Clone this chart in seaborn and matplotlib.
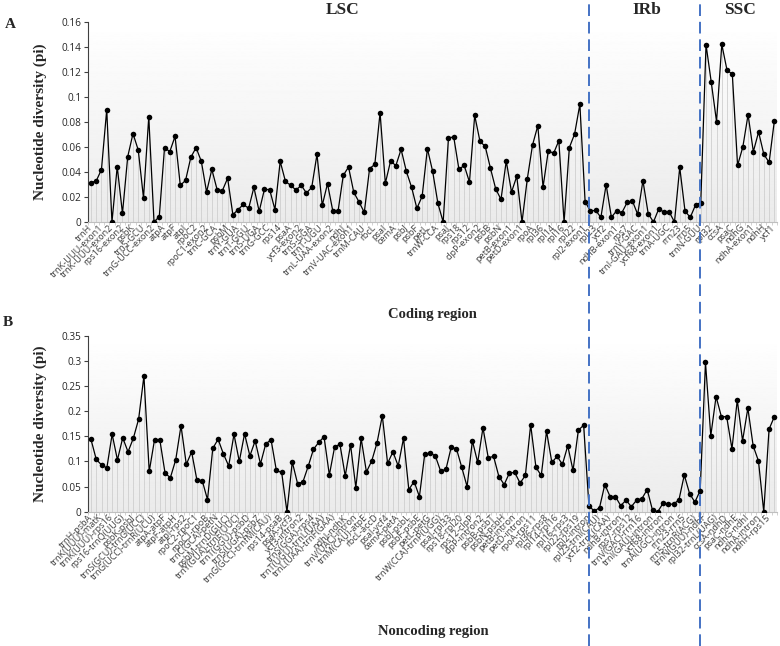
import numpy as np
import matplotlib
matplotlib.use("Agg")
import matplotlib.pyplot as plt
from matplotlib.lines import Line2D
from matplotlib.ticker import FuncFormatter
import seaborn as sns

# Tick labels (only every other category is labelled on the axis)
coding_labels = [
    "trnH", "trnK-UUU-exon1", "trnK-UUU-exon2", "rps16-exon2", "psbK", "trnS-GCU",
    "trnG-UCC-exon2", "atpA", "atpF", "atpI", "rpoC2", "rpoC1-exon2", "trnC-GCA",
    "psbM", "trnY-GUA", "trnT-GGU", "trnS-UGA", "trnG-GCC", "rps14", "psaA",
    "ycf3-exon2", "trnS-GGA", "trnT-UGU", "trnL-UAA-exon2", "ndhJ", "trnV-UAC-exon1",
    "trnM-CAU", "rbcL", "psaI", "cemA", "psbJ", "psbF", "petL", "trnW-CCA", "psaJ",
    "rps18", "rps12", "clpP-exon2", "psbB", "psbN", "petB-exon1", "petD-exon1", "rpoA",
    "rpl36", "rpl14", "rpl16", "rpl22", "rpl2-exon1", "rpl23", "ycf2", "ndhB-exon1",
    "rps7", "trnV-GAC", "trnI-GAU-exon1", "ycf68-exon1", "trnA-UGC", "rrn23", "rrn5",
    "trnN-GUU", "rpl32", "ccsA", "psaC", "ndhG", "ndhA-exon1", "ndhH", "ycf1",
]

coding_pi = [
    0.0315, 0.0328, 0.0419, 0.0896, 0.0, 0.0443, 0.0069, 0.0523, 0.0707, 0.0576,
    0.0192, 0.0840, 0.0, 0.0043, 0.0595, 0.0563, 0.0685, 0.0293, 0.0333, 0.0517,
    0.0595, 0.0485, 0.0240, 0.0421, 0.0259, 0.0251, 0.0350, 0.0059, 0.0099, 0.0141,
    0.0109, 0.0277, 0.0085, 0.0261, 0.0259, 0.0099, 0.0485, 0.0325, 0.0293, 0.0256,
    0.0293, 0.0232, 0.0277, 0.0541, 0.0133, 0.0307, 0.0090, 0.0085, 0.0373, 0.0440,
    0.0237, 0.0160, 0.0077, 0.0427, 0.0461, 0.0875, 0.0310, 0.0488, 0.0451, 0.0581,
    0.0405, 0.0277, 0.0109, 0.0205, 0.0587, 0.0405, 0.0149, 0.0, 0.0669, 0.0683,
    0.0421, 0.0453, 0.0320, 0.0853, 0.0645, 0.0605, 0.0429, 0.0264, 0.0181, 0.0488,
    0.0240, 0.0365, 0.0, 0.0344, 0.0616, 0.0770, 0.0280, 0.0570, 0.0549, 0.0650,
    0.0, 0.0595, 0.0704, 0.0941, 0.0163, 0.0088, 0.0093, 0.0037, 0.0299, 0.0037,
    0.0091, 0.0075, 0.0157, 0.0168, 0.0061, 0.0331, 0.0067, 0.0, 0.0104, 0.0080,
    0.0080, 0.0, 0.0437, 0.0088, 0.0037, 0.0136, 0.0155, 0.1419, 0.1117, 0.0803,
    0.1421, 0.1213, 0.1184, 0.0453, 0.0600, 0.0859, 0.0563, 0.0720, 0.0541, 0.0477,
    0.0810,
]

noncoding_labels = [
    "trnH-psbA", "trnK(UUU)-matK", "trnK(UUU)-rps16", "rps16-trnQ(UUG)", "psbK-psbI",
    "trnS(GCU)-trnG(UCC)", "trnG(UCC)-trnR(UCU)", "atpA-atpF", "atpF-atpH", "atpI-rps2",
    "rpoC2-rpoC1", "rpoC1-rpoB", "trnC(GCA)-petN", "psbM-trnD(GUC)", "trnY(GUA)-trnE(UUC)",
    "trnT(GGU)-psbD", "trnS(UGA)-psbZ", "trnG(GCC)-trnfM(CAU)", "rps14-psaB", "psaA-ycf3",
    "ycf3-intron2", "trnS(GGA)-rps4", "trnT(UGU)-trnL(UAA)", "trnL(UAA)-trnF(GAA)",
    "ndhJ-ndhK", "trnV(UAC)-intron", "trnM(CAU)-atpE", "rbcL-accD", "psaI-ycf4",
    "cemA-petA", "psbJ-psbL", "psbF-psbE", "petL-petG", "trnW(CCA)-trnP(UGG)",
    "psaJ-rpl33", "rps18-rpl20", "rps12-clpP", "clpP-intron2", "psbB-psbT", "psbN-psbH",
    "petB-intron", "petD-intron", "rpoA-rps11", "rpl36-rps8", "rpl14-rpl16", "rpl16-rps3",
    "rpl22-rps19", "rpl2-intron", "rpl23-trnI(CAU)", "ycf2-trnL(CAA)", "ndhB-intron",
    "rps7-rps12", "trnV(GAC)-rrn16", "trnI(GAU)-intron", "ycf68-intron", "trnA(UGC)-intron",
    "rrn23-rrn5", "rrn5-trnR(ACG)", "trnN(GUU)-ndhF", "rpl32-trnL(UAG)", "ccsA-ndhD",
    "psaC-ndhE", "ndhG-ndhI", "ndhA-intron", "ndhH-rps15",
]

noncoding_pi = [
    0.144, 0.104, 0.093, 0.087, 0.154, 0.103, 0.147, 0.119, 0.146, 0.184,
    0.270, 0.080, 0.143, 0.143, 0.076, 0.068, 0.103, 0.171, 0.094, 0.119,
    0.063, 0.062, 0.024, 0.126, 0.144, 0.115, 0.091, 0.154, 0.100, 0.155,
    0.111, 0.141, 0.095, 0.135, 0.143, 0.082, 0.078, 0.0, 0.099, 0.056,
    0.059, 0.090, 0.124, 0.138, 0.149, 0.073, 0.129, 0.134, 0.071, 0.133,
    0.048, 0.146, 0.079, 0.101, 0.137, 0.191, 0.096, 0.119, 0.091, 0.146,
    0.044, 0.060, 0.030, 0.114, 0.117, 0.111, 0.081, 0.084, 0.128, 0.125,
    0.088, 0.050, 0.141, 0.098, 0.167, 0.107, 0.110, 0.070, 0.054, 0.077,
    0.078, 0.057, 0.072, 0.173, 0.088, 0.072, 0.160, 0.098, 0.110, 0.094,
    0.131, 0.082, 0.162, 0.172, 0.012, 0.001, 0.008, 0.054, 0.030, 0.030,
    0.012, 0.023, 0.010, 0.023, 0.026, 0.044, 0.003, 0.0, 0.017, 0.015,
    0.015, 0.024, 0.073, 0.036, 0.019, 0.042, 0.297, 0.151, 0.229, 0.189,
    0.189, 0.125, 0.222, 0.141, 0.206, 0.131, 0.101, 0.0, 0.164, 0.189,
]

W, H = 780, 646
sns.set_style("white")
plt.rcParams['font.family'] = ['Open Sans', 'DejaVu Sans']
SERIF = ['Liberation Serif', 'DejaVu Serif']


def px_box(x0, y0, x1, y1):
    return [x0 / W, 1 - y1 / H, (x1 - x0) / W, (y1 - y0) / H]


def draw_panel(ax, values, labels, ymax, ystep):
    n = len(values)
    pos = np.arange(n)

    # soft white-to-grey plot area fill
    grad = np.linspace(1.0, 0.92, 256)[:, None]
    ax.imshow(grad, extent=(-0.5, n - 0.5, 0, ymax), aspect='auto', cmap='gray',
              vmin=0, vmax=1, origin='upper', zorder=0)

    # drop lines + line with markers
    ax.vlines(pos, 0, values, color='#cfcfcf', lw=0.6, zorder=1)
    sns.lineplot(x=pos, y=values, ax=ax, color='black', lw=0.9, marker='o',
                 markersize=4, markeredgewidth=0, zorder=3)

    ax.set_xlim(-0.5, n - 0.5)
    ax.set_ylim(0, ymax)

    ax.set_xticks(pos[::2])
    ax.set_xticklabels(labels, rotation=45, ha='right', va='center',
                       rotation_mode='anchor', fontsize=6.6, color='#404040')
    ax.set_xticks(np.arange(n + 1) - 0.5, minor=True)
    ax.tick_params(axis='x', which='major', length=0, pad=3)
    ax.tick_params(axis='x', which='minor', bottom=True, length=2.5,
                   color='#bfbfbf', width=0.5)

    ax.set_yticks(np.arange(0, ymax + ystep / 2, ystep))
    ax.yaxis.set_major_formatter(FuncFormatter(lambda v, p: f"{round(v, 3):g}"))
    ax.tick_params(axis='y', left=True, length=3, width=0.8, color='#404040',
                   labelsize=7.2, labelcolor='#262626', pad=2)

    for s in ('top', 'right'):
        ax.spines[s].set_visible(False)
    ax.spines['left'].set_color('#404040')
    ax.spines['left'].set_linewidth(0.8)
    ax.spines['bottom'].set_color('#bfbfbf')
    ax.spines['bottom'].set_linewidth(0.8)

    ax.set_xlabel('')
    ax.set_ylabel('Nucleotide diversity (pi)', fontfamily=SERIF,
                  fontweight='bold', fontsize=11)
    ax.yaxis.set_label_coords((47 - 88.3) / 688.7, 0.5)


fig = plt.figure(figsize=(W / 100, H / 100), dpi=100)

ax_a = fig.add_axes(px_box(88.3, 22, 777, 222))
draw_panel(ax_a, coding_pi, coding_labels, 0.16, 0.02)

ax_b = fig.add_axes(px_box(88.3, 335.7, 777, 511.7))
draw_panel(ax_b, noncoding_pi, noncoding_labels, 0.35, 0.05)

# region boundaries across the whole figure
for xp in (589.3, 700.0):
    fig.add_artist(Line2D([xp / W, xp / W], [0, 1], transform=fig.transFigure,
                          color='#4472c4', lw=1.4, ls=(0, (6, 3)), zorder=10))


def ftext(x, y, s, size, **kw):
    fig.text(x / W, 1 - y / H, s, ha='center', va='center', fontfamily=SERIF,
             fontweight='bold', fontsize=size, **kw)


ftext(343, 10, 'LSC', 12.5)
ftext(647, 10, 'IRb', 12.5)
ftext(740, 10, 'SSC', 12.5)
ftext(10, 24, 'A', 11)
ftext(8, 322, 'B', 11)
ftext(432, 314, 'Coding region', 10.5)
ftext(433, 631, 'Noncoding region', 10.5)

fig.savefig('out.png', dpi=100)
